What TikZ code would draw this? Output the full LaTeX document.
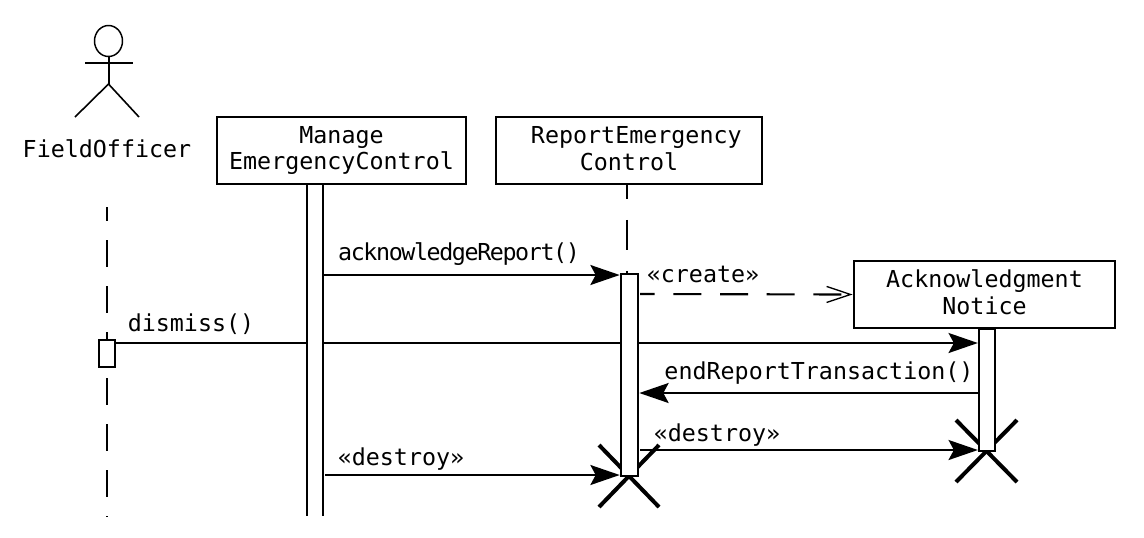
\documentclass[tikz,border=0pt]{standalone}
\usepackage{fontspec}
\setmainfont{DejaVu Sans Mono}
\usetikzlibrary{arrows.meta}
\tikzset{
    objbox/.style={draw, line width=1.7pt, fill=white, align=center, inner sep=0pt, font=\fontsize{17.5}{20.2}\selectfont},
    actbar/.style={draw, line width=1.7pt, fill=white, inner sep=0pt},
    msg/.style={line width=1.6pt, -{Stealth[length=22pt,width=15pt,inset=4pt]}},
    ret/.style={line width=1.6pt, dash pattern=on 21pt off 14pt, dash phase=10pt, -{Straight Barb[length=18pt,width=12pt,line width=1pt]}},
    life/.style={line width=1.5pt},
    lbl/.style={font=\fontsize{17.5}{21}\selectfont},
    killx/.style={line width=3pt}
}
\begin{document}
\begin{tikzpicture}[x=0.75pt,y=-0.75pt]
    \useasboundingbox (0,0) rectangle (1144,537);
    % actor
    \draw [line width=1.1pt] (108.5,41) ellipse (14 and 15.5);
    \draw [line width=1.5pt] (108.5,56.5) -- (108.5,85);
    \draw [line width=1.2pt] (75,117) -- (108.5,84) -- (139,117);
    \draw [line width=1.5pt] (85,62.5) -- (133,62.5);
    \node [lbl] (officer) at (107,149) {FieldOfficer};
    % lifelines
    \coordinate (offtop) at (107,207);
    \coordinate (offbot) at (107,517);
    \draw [life, dash pattern=on 20.25pt off 14.25pt, dash phase=9.75pt] (offtop) -- (offbot);
    \node [objbox, minimum width=187pt, minimum height=50pt] (manage) at (341.5,150.5) {Manage\\EmergencyControl};
    \node [objbox, minimum width=199pt, minimum height=50pt] (report) at (629,150.5) {\hspace*{11pt}ReportEmergency\\Control\vphantom{y}};
    \node [objbox, minimum width=196pt, minimum height=50pt] (notice) at (984.5,294.5) {Acknowledgment\\Notice\vphantom{y}};
    \coordinate (mleft) at (307,184);
    \coordinate (mright) at (323,184);
    \coordinate (mleftbot) at (307,516);
    \coordinate (mrightbot) at (323,516);
    \draw [line width=1.7pt] (mleft) -- (mleftbot);
    \draw [line width=1.7pt] (mright) -- (mrightbot);
    \node [actbar, minimum width=12pt, minimum height=20pt] (officerbar) at (107,353.5) {};
    \coordinate (reptop) at (627,273);
    \draw [life, dash pattern=on 22.5pt off 15.75pt, dash phase=12pt] (report.south -| reptop) -- (reptop);
    % destroy marks
    \draw [killx] (599,445) -- (659,507);
    \draw [killx] (599,507) -- (659,445);
    \draw [killx] (956,420) -- (1017,482);
    \draw [killx] (956,482) -- (1017,420);
    \node [actbar, minimum width=13pt, minimum height=151.5pt, anchor=north] (reportbar) at (629.5,273) {};
    \node [actbar, minimum width=12pt, minimum height=91.5pt, anchor=north] (noticebar) at (987,328) {};
    % messages
    \draw [msg] (mright |- 0,275) -- (reportbar.west |- 0,275);
    \draw [ret] (640,294) -- (notice.west);
    \draw [line width=1.6pt] (officerbar.east |- 0,343) -- (mleft |- 0,343);
    \draw [line width=1.6pt] (mright |- 0,343) -- (reportbar.west |- 0,343);
    \draw [msg] (reportbar.east |- 0,343) -- (noticebar.west |- 0,343);
    \draw [msg] (noticebar.west |- 0,393) -- (reportbar.east |- 0,393);
    \draw [msg] (640,450) -- (noticebar.west |- 0,450);
    \draw [msg] (325,475) -- (reportbar.west |- 0,475);
    % labels
    \node [lbl] (lack) at (459,254) {\addfontfeature{LetterSpace=-6}acknowledgeReport()};
    \node [lbl] (lcreate) at (703,274) {«create»};
    \node [lbl] (ldismiss) at (191,324) {dismiss()};
    \node [lbl] (lend) at (819,373) {endReportTransaction()};
    \node [lbl] (ldest) at (717,435) {«destroy»};
    \node [lbl] (ldesttwo) at (401,459) {«destroy»};
\end{tikzpicture}
\end{document}
